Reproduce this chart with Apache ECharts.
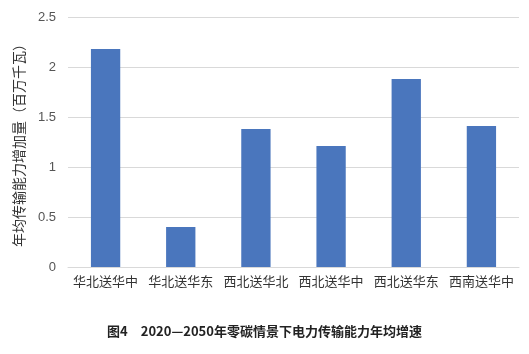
<!DOCTYPE html>
<html>
<head>
<meta charset="utf-8">
<script src="https://cdn.jsdelivr.net/npm/echarts@6/dist/echarts.min.js"></script>
<style>
  html, body { margin: 0; padding: 0; background: #fff; }
  #chart { width: 529px; height: 354px; }
</style>
</head>
<body>
<div id="chart"></div>
<script>
// 线路名称
const categories = ['华北送华中', '华北送华东', '西北送华北', '西北送华中', '西北送华东', '西南送华中']
// 年均传输能力增加量（百万千瓦）
const values = [2.18, 0.4, 1.38, 1.21, 1.88, 1.41]
const yTicks = [0, 0.5, 1, 1.5, 2, 2.5]

const titleText = '图4\u20032020\u20142050年零碳情景下电力传输能力年均增速'
const yName = '年均传输能力增加量（百万千瓦）'

const myChart = echarts.init(document.getElementById('chart'))

myChart.setOption({
  animation: false,
  title: {
    text: titleText,
    left: 'center',
    bottom: 11,
    textStyle: {
      fontFamily: 'Noto Sans CJK SC',
      fontSize: 13,
      fontWeight: 'bold',
      color: '#222'
    }
  },
  grid: { left: 68, right: 10, top: 17, bottom: 87 },
  xAxis: {
    type: 'category',
    data: categories,
    axisLine: { lineStyle: { color: '#d9d9d9' } },
    axisTick: { show: false },
    axisLabel: {
      interval: 0,
      fontFamily: 'Noto Sans CJK SC',
      fontSize: 13,
      color: '#333',
      margin: 8
    }
  },
  yAxis: {
    type: 'value',
    min: yTicks[0],
    max: yTicks[yTicks.length - 1],
    interval: 0.5,
    name: yName,
    nameLocation: 'middle',
    nameGap: 42,
    nameRotate: 90,
    nameTextStyle: {
      fontFamily: 'Noto Sans CJK SC',
      fontSize: 14,
      color: '#333',
      padding: [0, 0, 0, 0]
    },
    axisLine: { show: false },
    axisTick: { show: false },
    splitLine: { lineStyle: { color: '#d9d9d9' } },
    axisLabel: {
      fontFamily: 'Liberation Sans',
      fontSize: 13,
      color: '#555',
      margin: 12
    }
  },
  series: [{
    type: 'bar',
    data: values,
    barWidth: '39%',
    itemStyle: { color: '#4a76bd' }
  }]
})
</script>
</body>
</html>
